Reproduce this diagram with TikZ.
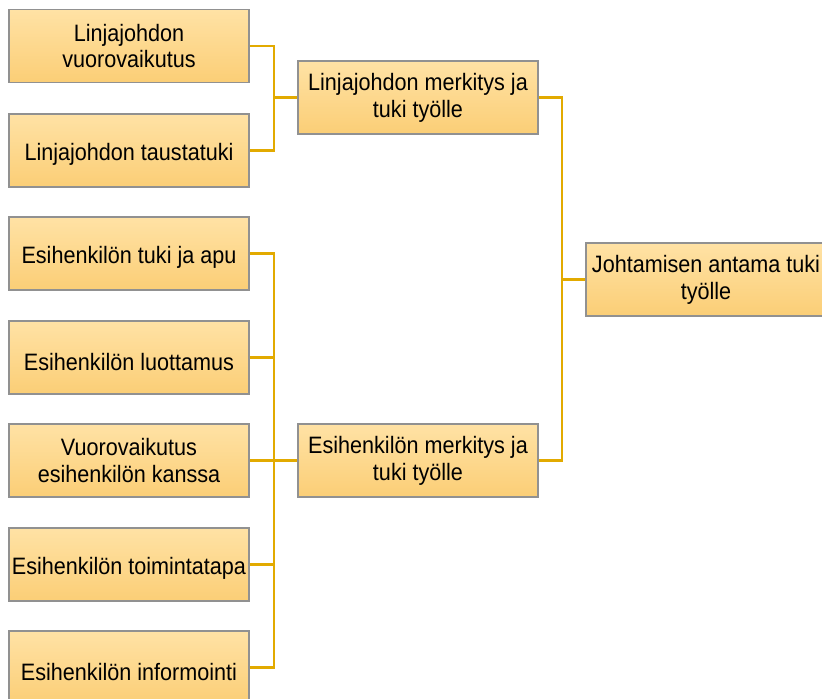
\documentclass[tikz,border=0pt]{standalone}
\usepackage{fontspec}
\setmainfont[FakeStretch=0.91]{Liberation Sans}
\definecolor{boxtop}{RGB}{255,226,165}
\definecolor{boxbot}{RGB}{251,206,118}
\definecolor{boxline}{RGB}{145,145,145}
\definecolor{linkgold}{RGB}{226,170,0}
\begin{document}
\begin{tikzpicture}[x=0.75pt,y=-0.75pt,
  tree box/.style={draw=boxline,line width=0.9pt,top color=boxtop,bottom color=boxbot,
    minimum width=180pt,minimum height=54.75pt,inner sep=0pt,align=center,
    font=\fontsize{17.8}{20.2}\selectfont,
    execute at begin node={\rule{0pt}{19pt}}},
  link/.style={draw=linkgold,line width=1.9pt}]
\useasboundingbox (0,0) rectangle (822,699);

% first level
\node[tree box] (b1) at (129,46)    {Linjajohdon\\vuorovaikutus};
\node[tree box] (b2) at (129,150.5) {Linjajohdon taustatuki};
\node[tree box] (b3) at (129,253.5) {Esihenkilön tuki ja apu};
\node[tree box] (b4) at (129,357.5) {Esihenkilön luottamus};
\node[tree box] (b5) at (129,460.5) {Vuorovaikutus\\esihenkilön kanssa};
\node[tree box] (b6) at (129,564.5) {Esihenkilön toimintatapa};
\node[tree box] (b7) at (129,667.5) {Esihenkilön informointi};

% second level
\node[tree box] (m1) at (418,97.5)  {Linjajohdon merkitys ja\\tuki työlle};
\node[tree box] (m2) at (418,460.5) {Esihenkilön merkitys ja\\tuki työlle};

% root
\node[tree box] (r) at (706,279.5) {Johtamisen antama tuki\\työlle};

% junction points of the brackets
\coordinate (j1) at (274,97.5);
\coordinate (j2) at (274,460.5);
\coordinate (j3) at (562,279.5);

% line management branch
\draw[link] (b1.east) -| (j1) |- (b2.east);
\draw[link] (j1) -- (m1.west);

% supervisor branch
\draw[link] (b3.east) -| (j2) |- (b7.east);
\draw[link] (b4.east) -- (b4.east -| j2);
\draw[link] (b5.east) -- (j2);
\draw[link] (b6.east) -- (b6.east -| j2);
\draw[link] (j2) -- (m2.west);

% root bracket
\draw[link] (m1.east) -| (j3) |- (m2.east);
\draw[link] (j3) -- (r.west);
\end{tikzpicture}
\end{document}
